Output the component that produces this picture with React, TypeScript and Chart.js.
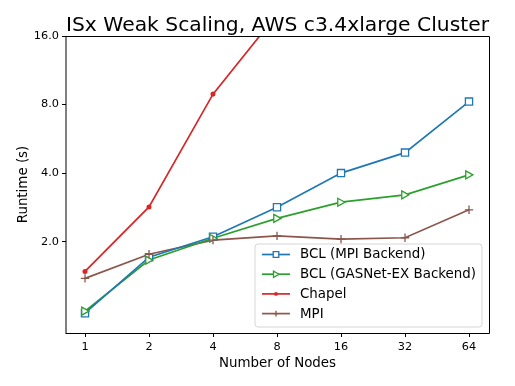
import React, { useEffect, useRef } from 'react';
import { Chart, registerables } from 'chart.js';
Chart.register(...registerables);

const nodes = [1, 2, 4, 8, 16, 32, 64];
const bclMpi = [0.97, 1.71, 2.1, 2.83, 4.0, 4.92, 8.24];
const bclGasnet = [0.99, 1.66, 2.07, 2.53, 2.98, 3.21, 3.93];
const chapelNodes = [1, 2, 4, 8];
const chapel = [1.48, 2.84, 8.89, 19.9];
const mpi = [1.38, 1.76, 2.03, 2.12, 2.05, 2.08, 2.76];
const yTicks = [2, 4, 8, 16];
const xTicks = [1, 2, 4, 8, 16, 32, 64];
const seriesNames = ['BCL (MPI Backend)', 'BCL (GASNet-EX Backend)', 'Chapel', 'MPI'];
const titleText = 'ISx Weak Scaling, AWS c3.4xlarge Cluster';
const xTitle = 'Number of Nodes';
const yTitle = 'Runtime (s)';

const FONT = '"DejaVu Sans", sans-serif';
const colors = ['#1f77b4', '#2ca02c', '#d62728', '#8c564b'];
const markers = ['square', 'triangleRight', 'circle', 'plus'];

function drawMarker(ctx: CanvasRenderingContext2D, kind: string, x: number, y: number, color: string, s: number) {
  ctx.save();
  ctx.strokeStyle = color;
  ctx.fillStyle = '#ffffff';
  ctx.lineWidth = 1.3;
  ctx.beginPath();
  if (kind === 'square') {
    ctx.rect(x - s, y - s, 2 * s, 2 * s);
    ctx.fill();
    ctx.stroke();
  } else if (kind === 'triangleRight') {
    ctx.moveTo(x + s * 1.1, y);
    ctx.lineTo(x - s * 0.9, y - s * 1.1);
    ctx.lineTo(x - s * 0.9, y + s * 1.1);
    ctx.closePath();
    ctx.fill();
    ctx.stroke();
  } else if (kind === 'circle') {
    ctx.fillStyle = color;
    ctx.arc(x, y, s * 0.7, 0, Math.PI * 2);
    ctx.fill();
  } else {
    ctx.moveTo(x - s, y);
    ctx.lineTo(x + s, y);
    ctx.moveTo(x, y - s);
    ctx.lineTo(x, y + s);
    ctx.stroke();
  }
  ctx.restore();
}

const framePlugin = {
  id: 'frame',
  afterDatasetsDraw(chart: any) {
    const { ctx, chartArea } = chart;
    const { left, right, top, bottom } = chartArea;
    ctx.save();
    // spines
    ctx.strokeStyle = '#000';
    ctx.lineWidth = 1;
    ctx.beginPath();
    ctx.moveTo(left, top + 0.5);
    ctx.lineTo(right + 0.5, top + 0.5);
    ctx.lineTo(right + 0.5, bottom + 0.5);
    ctx.lineTo(left, bottom + 0.5);
    ctx.stroke();
    ctx.beginPath();
    ctx.moveTo(left, top);
    ctx.lineTo(left, bottom + 1);
    ctx.stroke();

    // legend
    const bx = 255, by = 244, bw = 227, bh = 83, r = 3;
    ctx.beginPath();
    ctx.moveTo(bx + r, by);
    ctx.lineTo(bx + bw - r, by);
    ctx.quadraticCurveTo(bx + bw, by, bx + bw, by + r);
    ctx.lineTo(bx + bw, by + bh - r);
    ctx.quadraticCurveTo(bx + bw, by + bh, bx + bw - r, by + bh);
    ctx.lineTo(bx + r, by + bh);
    ctx.quadraticCurveTo(bx, by + bh, bx, by + bh - r);
    ctx.lineTo(bx, by + r);
    ctx.quadraticCurveTo(bx, by, bx + r, by);
    ctx.closePath();
    ctx.fillStyle = 'rgba(255,255,255,0.8)';
    ctx.fill();
    ctx.strokeStyle = '#d6d6d6';
    ctx.lineWidth = 1;
    ctx.stroke();
    chart.data.datasets.forEach((ds: any, i: number) => {
      const y = 254.5 + i * 19.7;
      ctx.strokeStyle = ds.borderColor;
      ctx.lineWidth = 1.7;
      ctx.beginPath();
      ctx.moveTo(262, y);
      ctx.lineTo(290, y);
      ctx.stroke();
      drawMarker(ctx, markers[i], 276, y, ds.borderColor, 2.8);
      ctx.fillStyle = '#000';
      ctx.font = `13.4px ${FONT}`;
      ctx.textAlign = 'left';
      ctx.textBaseline = 'middle';
      ctx.fillText(ds.label, 300, y + 0.5);
    });

    // titles
    ctx.fillStyle = '#000';
    ctx.textAlign = 'center';
    ctx.textBaseline = 'alphabetic';
    ctx.font = `20.3px ${FONT}`;
    ctx.fillText(titleText, (left + right) / 2, 31);
    ctx.font = `13.4px ${FONT}`;
    ctx.fillText(xTitle, (left + right) / 2, 367);
    ctx.save();
    ctx.translate(27, (top + bottom) / 2);
    ctx.rotate(-Math.PI / 2);
    ctx.fillText(yTitle, 0, 0);
    ctx.restore();
    ctx.restore();
  },
};

const markerPlugin = {
  id: 'markers',
  afterDatasetsDraw(chart: any) {
    const { ctx, chartArea } = chart;
    ctx.save();
    ctx.beginPath();
    ctx.rect(chartArea.left - 6, chartArea.top, chartArea.right - chartArea.left + 12, chartArea.bottom - chartArea.top + 6);
    ctx.clip();
    chart.data.datasets.forEach((ds: any, i: number) => {
      const meta = chart.getDatasetMeta(i);
      meta.data.forEach((pt: any) => {
        if (pt.y < chartArea.top - 1) return;
        const s = markers[i] === 'circle' ? 3.6 : markers[i] === 'plus' ? 4.2 : 3.6;
        drawMarker(ctx, markers[i], pt.x, pt.y, ds.borderColor, s);
      });
    });
    ctx.restore();
  },
};

export default function App() {
  const ref = useRef<HTMLCanvasElement | null>(null);
  useEffect(() => {
    document.body.style.margin = '0';
    const mk = (xs: number[], ys: number[]) => xs.map((x, i) => ({ x, y: ys[i] }));
    const series = [
      mk(nodes, bclMpi),
      mk(nodes, bclGasnet),
      mk(chapelNodes, chapel),
      mk(nodes, mpi),
    ];
    const chart = new Chart(ref.current as HTMLCanvasElement, {
      type: 'line',
      data: {
        datasets: series.map((d, i) => ({
          label: seriesNames[i],
          data: d,
          borderColor: colors[i],
          backgroundColor: colors[i],
          borderWidth: 1.7,
          pointRadius: 0,
          pointHoverRadius: 0,
          tension: 0,
          fill: false,
        })),
      },
      options: {
        animation: false,
        responsive: false,
        events: [],
        layout: { padding: { top: 36, right: 26, left: 0, bottom: 0 } },
        plugins: { legend: { display: false }, title: { display: false }, tooltip: { enabled: false } },
        scales: {
          x: {
            type: 'logarithmic',
            min: Math.pow(2, -0.297),
            max: Math.pow(2, 6.3125),
            afterBuildTicks: (s: any) => { s.ticks = xTicks.map((v) => ({ value: v })); },
            afterFit: (s: any) => { s.height = 53; },
            ticks: {
              callback: (v: any) => String(v),
              font: { family: FONT, size: 11.3 },
              color: '#000',
              padding: 3,
              maxRotation: 0,
              autoSkip: false,
            },
            grid: { drawOnChartArea: false, drawTicks: true, tickLength: 4, color: '#000', lineWidth: 1 },
            border: { display: false },
          },
          y: {
            type: 'logarithmic',
            min: 0.794,
            max: 16,
            afterBuildTicks: (s: any) => { s.ticks = yTicks.map((v) => ({ value: v })); },
            afterFit: (s: any) => { s.width = 66; },
            ticks: {
              callback: (v: any) => Number(v).toFixed(1),
              font: { family: FONT, size: 11.3 },
              color: '#000',
              padding: 3,
              autoSkip: false,
            },
            grid: { drawOnChartArea: false, drawTicks: true, tickLength: 4, color: '#000', lineWidth: 1 },
            border: { display: false },
          },
        },
      },
      plugins: [markerPlugin, framePlugin],
    } as any);
    return () => chart.destroy();
  }, []);
  return (
    <div style={{ width: 515, height: 386 }}>
      <canvas ref={ref} width={515} height={386} style={{ display: 'block', width: 515, height: 386 }} />
    </div>
  );
}
